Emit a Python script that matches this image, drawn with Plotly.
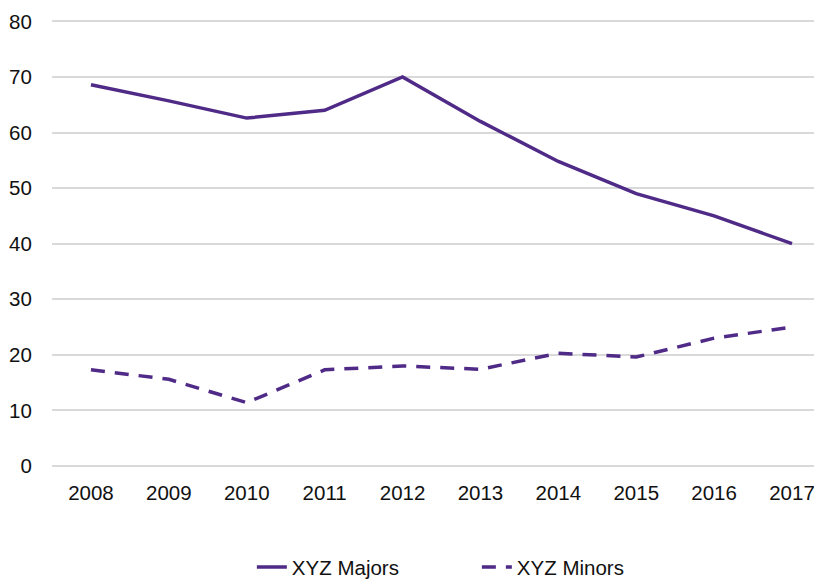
import plotly.graph_objects as go

years = ["2008", "2009", "2010", "2011", "2012", "2013", "2014", "2015", "2016", "2017"]
majors = [68.6, 65.7, 62.6, 64.0, 70.0, 62.0, 54.8, 49.0, 45.0, 40.0]
minors = [17.3, 15.6, 11.4, 17.3, 18.0, 17.4, 20.3, 19.6, 23.0, 25.0]

PURPLE = "#4F2A87"

fig = go.Figure()
fig.add_trace(go.Scatter(x=years, y=majors, mode="lines", name="XYZ Majors",
                         line=dict(color=PURPLE, width=3.5)))
fig.add_trace(go.Scatter(x=years, y=minors, mode="lines", name="XYZ Minors",
                         line=dict(color=PURPLE, width=3.5, dash="14px,10px")))

# page body adds an 8px margin, so the figure is sized to the remaining viewport
fig.update_layout(
    width=814, height=574,
    margin=dict(l=44, r=0, t=12, b=116, autoexpand=False),
    plot_bgcolor="white", paper_bgcolor="white",
    font=dict(family="Liberation Sans, Arial, sans-serif", size=20.5, color="#111"),
    legend=dict(orientation="h", x=0.576, xanchor="center", xref="container",
                y=0.026, yanchor="middle", yref="container",
                entrywidth=180, font=dict(size=20.5)),
    showlegend=True,
)
fig.update_xaxes(type="category", range=[-0.5, 9.385], showgrid=False, automargin=False,
                 showline=False, ticks="outside", ticklen=8, tickcolor="white")
fig.update_yaxes(range=[0, 80.25], tickvals=[0, 10, 20, 30, 40, 50, 60, 70, 80],
                 ticklabeloverflow="allow",
                 showgrid=True, gridcolor="#D9D9D9", automargin=False,
                 gridwidth=1.5, zeroline=True, zerolinecolor="#D9D9D9", zerolinewidth=1.5,
                 ticks="outside", ticklen=15, tickcolor="white")

fig.write_html("out.html")
